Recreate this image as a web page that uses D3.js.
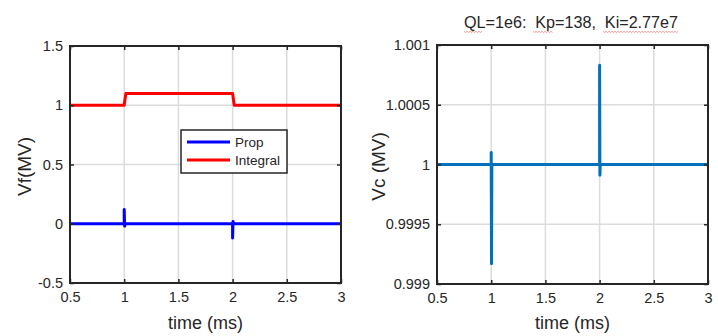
<!DOCTYPE html>
<html lang="en">
<head>
<meta charset="UTF-8">
<title>Vf and Vc</title>
<script src="https://d3js.org/d3.v7.min.js"></script>
<style>
  body { margin: 0; background: #fff; }
  svg text { font-family: "Liberation Sans", Arial, sans-serif; fill: #262626; }
</style>
</head>
<body>
<svg id="chart" width="718" height="336"></svg>
<script>
// ---- data ----
var xTicks = [0.5, 1, 1.5, 2, 2.5, 3];
var vfTicks = [-0.5, 0, 0.5, 1, 1.5];
var vcTicks = [0.999, 0.9995, 1, 1.0005, 1.001];

var integralT = [0.5, 1.0, 1.015, 2.0, 2.015, 3.0];
var integralV = [1, 1, 1.1, 1.1, 1, 1];

var propT = [0.5, 1.0, 1.0, 1.004, 1.008, 2.0, 2.0, 2.004, 2.008, 3.0];
var propV = [0, 0, 0.12, -0.02, 0, 0, -0.12, 0.02, 0, 0];

var vcT = [0.5, 1.0, 1.0, 1.003, 1.006, 2.0, 2.0, 2.003, 2.006, 3.0];
var vcV = [1, 1, 1.0001, 0.99917, 1, 1, 1.00083, 0.99991, 1, 1];

var svg = d3.select('#chart');

function zip(t, v) {
    return t.map(function(d, i) { return [d, v[i]]; });
}

// plain hyphen for negatives, like the original plot
var fmt = function(d) { return String(+d.toFixed(4)); };

var drawPanel = function(box, yDomain, yTicks, yLabel, series) {
    var x = d3.scaleLinear().domain([0.5, 3]).range([box.x0, box.x1]);
    var y = d3.scaleLinear().domain(yDomain).range([box.y1, box.y0]);
    var g = svg.append('g');

    // grid
    g.selectAll('.gx').data(xTicks).enter().append('line')
        .attr('x1', function(d) { return x(d); }).attr('x2', function(d) { return x(d); })
        .attr('y1', box.y0).attr('y2', box.y1)
        .attr('stroke', '#dcdcdc').attr('stroke-width', 1.5);
    g.selectAll('.gy').data(yTicks).enter().append('line')
        .attr('y1', function(d) { return y(d); }).attr('y2', function(d) { return y(d); })
        .attr('x1', box.x0).attr('x2', box.x1)
        .attr('stroke', '#dcdcdc').attr('stroke-width', 1.5);

    // lines
    var line = d3.line().x(function(d) { return x(d[0]); }).y(function(d) { return y(d[1]); });
    series.forEach(function(s) {
        g.append('path').datum(s.data)
            .attr('d', line)
            .attr('fill', 'none')
            .attr('stroke', s.color)
            .attr('stroke-width', 3)
            .attr('stroke-linejoin', 'round');
    });

    // axes (ticks inside, all four sides)
    var ax = d3.axisBottom(x).tickValues(xTicks).tickSize(-4).tickPadding(9).tickFormat(fmt);
    var axTop = d3.axisTop(x).tickValues(xTicks).tickSize(-4).tickFormat('');
    var ay = d3.axisLeft(y).tickValues(yTicks).tickSize(-4).tickPadding(7).tickFormat(fmt);
    var ayR = d3.axisRight(y).tickValues(yTicks).tickSize(-4).tickFormat('');

    [g.append('g').attr('transform', 'translate(0,' + box.y1 + ')').call(ax),
     g.append('g').attr('transform', 'translate(0,' + box.y0 + ')').call(axTop),
     g.append('g').attr('transform', 'translate(' + box.x0 + ',0)').call(ay),
     g.append('g').attr('transform', 'translate(' + box.x1 + ',0)').call(ayR)
    ].forEach(function(a) {
        a.select('.domain').remove();
        a.selectAll('line').attr('stroke', '#262626').attr('stroke-width', 1.5);
        a.selectAll('text').style('font-size', '14.5px').attr('fill', '#262626')
            .style('font-family', '"Liberation Sans", Arial, sans-serif');
    });

    g.append('rect')
        .attr('x', box.x0).attr('y', box.y0)
        .attr('width', box.x1 - box.x0).attr('height', box.y1 - box.y0)
        .attr('fill', 'none').attr('stroke', '#262626').attr('stroke-width', 2);

    g.append('text')
        .attr('x', (box.x0 + box.x1) / 2).attr('y', 329)
        .attr('text-anchor', 'middle').style('font-size', '18px')
        .text('time (ms)');

    g.append('text')
        .attr('transform', 'translate(' + box.labelX + ',' + ((box.y0 + box.y1) / 2 + 2) + ') rotate(-90)')
        .attr('text-anchor', 'middle').style('font-size', '19px')
        .text(yLabel);

    return { x: x, y: y, g: g };
};

var left = drawPanel({ x0: 70, x1: 341, y0: 46, y1: 283, labelX: 31 }, [-0.5, 1.5], vfTicks, 'Vf(MV)',
    [{ data: zip(integralT, integralV), color: '#ff0000' },
     { data: zip(propT, propV), color: '#0000ff' }]);

var right = drawPanel({ x0: 437, x1: 708, y0: 45, y1: 284, labelX: 385 }, [0.999, 1.001], vcTicks, 'Vc (MV)',
    [{ data: zip(vcT, vcV), color: '#0072bd' }]);

// legend
var legend = svg.append('g').attr('transform', 'translate(181,130)');
legend.append('rect').attr('width', 106).attr('height', 43)
    .attr('fill', '#fff').attr('stroke', '#262626').attr('stroke-width', 1.5);
[['Prop', '#0000ff'], ['Integral', '#ff0000']].forEach(function(d, i) {
    var yy = 12 + i * 18;
    legend.append('line').attr('x1', 6).attr('x2', 49).attr('y1', yy).attr('y2', yy)
        .attr('stroke', d[1]).attr('stroke-width', 3);
    legend.append('text').attr('x', 54).attr('y', yy + 5)
        .style('font-size', '13.5px').text(d[0]);
});

// title with spell-check style wavy underlines
svg.append('text')
    .attr('x', 464).attr('y', 28)
    .attr('textLength', 214)
    .attr('lengthAdjust', 'spacingAndGlyphs')
    .style('font-size', '16px')
    .attr('xml:space', 'preserve')
    .text('QL=1e6:  Kp=138,  Ki=2.77e7');

var squiggles = [[464, 483], [533, 553], [603, 678]];
squiggles.forEach(function(s) {
    var pts = d3.range(s[0], s[1] + 0.1, 1.5).map(function(px, i) {
        return [px, 31.5 + (i % 2 ? 1 : -0.2)];
    });
    svg.append('path')
        .attr('d', d3.line()(pts))
        .attr('fill', 'none')
        .attr('stroke', '#f08080')
        .attr('stroke-width', 0.8);
});
</script>
</body>
</html>
